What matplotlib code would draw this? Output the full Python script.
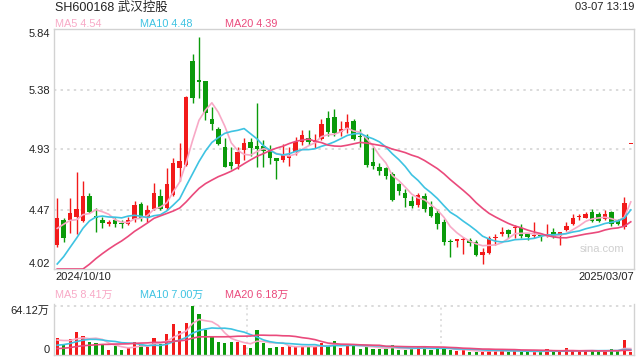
import numpy as np
import pandas as pd
import matplotlib
matplotlib.use("Agg")
import matplotlib.pyplot as plt

plt.rcParams["font.family"] = ["Liberation Sans", "Noto Sans CJK SC", "DejaVu Sans"]

# ---- дані ----
title = "SH600168 武汉控股"
stamp = "03-07 13:19"
first_date = "2024/10/10"
last_date = "2025/03/07"

opens = [4.202, 4.392, 4.392, 4.417, 4.384, 4.574, 4.424, 4.392, 4.364, 4.392,
         4.366, 4.364, 4.399, 4.513, 4.409, 4.475, 4.574, 4.480, 4.581, 4.788,
         4.806, 5.597, 5.453, 5.446, 5.158, 5.079, 4.943, 4.829, 4.816, 4.922,
         4.986, 4.955, 4.950, 4.925, 4.862, 4.847, 4.865, 4.910, 4.986, 5.014,
         4.980, 5.008, 5.163, 5.170, 5.056, 5.087, 5.140, 5.020, 5.024, 4.834,
         4.791, 4.783, 4.740, 4.665, 4.599, 4.538, 4.505, 4.574, 4.493, 4.447,
         4.379, 4.227, 4.235, 4.240, 4.240, 4.227, 4.126, 4.139, 4.253, 4.283,
         4.316, 4.330, 4.328, 4.288, 4.268, 4.285, 4.268, 4.298, 4.273, 4.316,
         4.359, 4.414, 4.409, 4.450, 4.437, 4.399, 4.450, 4.392, 4.341, 4.970]
highs = [4.556, 4.404, 4.556, 4.758, 4.687, 4.596, 4.485, 4.417, 4.392, 4.409,
         4.392, 4.417, 4.536, 4.531, 4.505, 4.672, 4.627, 4.783, 4.859, 4.975,
         5.334, 5.648, 5.776, 5.446, 5.251, 5.100, 5.010, 4.948, 4.948, 5.011,
         5.011, 5.276, 4.998, 4.960, 4.862, 4.965, 4.945, 5.020, 5.074, 5.074,
         5.041, 5.157, 5.215, 5.231, 5.140, 5.193, 5.156, 5.082, 5.041, 4.948,
         4.821, 4.790, 4.758, 4.670, 4.627, 4.570, 4.594, 4.594, 4.536, 4.473,
         4.397, 4.245, 4.250, 4.265, 4.253, 4.240, 4.177, 4.273, 4.283, 4.336,
         4.320, 4.354, 4.361, 4.290, 4.379, 4.290, 4.364, 4.333, 4.300, 4.374,
         4.435, 4.435, 4.450, 4.475, 4.450, 4.467, 4.462, 4.400, 4.569, 4.970]
lows = [4.184, 4.227, 4.290, 4.283, 4.379, 4.442, 4.303, 4.328, 4.349, 4.341,
        4.334, 4.356, 4.379, 4.384, 4.379, 4.467, 4.467, 4.475, 4.576, 4.687,
        4.800, 5.276, 5.316, 5.150, 5.074, 4.960, 4.796, 4.776, 4.778, 4.847,
        4.880, 4.796, 4.796, 4.816, 4.700, 4.829, 4.800, 4.885, 4.958, 4.960,
        4.935, 5.000, 5.030, 5.026, 5.026, 5.055, 5.000, 4.948, 4.796, 4.776,
        4.733, 4.703, 4.536, 4.578, 4.488, 4.484, 4.493, 4.455, 4.414, 4.323,
        4.202, 4.113, 4.187, 4.134, 4.194, 4.120, 4.055, 4.131, 4.202, 4.270,
        4.253, 4.253, 4.253, 4.240, 4.253, 4.232, 4.263, 4.258, 4.202, 4.310,
        4.350, 4.392, 4.405, 4.374, 4.380, 4.395, 4.346, 4.350, 4.323, 4.970]
closes = [4.409, 4.258, 4.445, 4.475, 4.574, 4.450, 4.404, 4.369, 4.379, 4.364,
          4.359, 4.392, 4.505, 4.404, 4.467, 4.596, 4.475, 4.665, 4.821, 4.839,
          5.327, 5.319, 5.436, 5.200, 5.120, 4.965, 4.796, 4.804, 4.910, 4.973,
          4.935, 4.930, 4.915, 4.860, 4.842, 4.885, 4.885, 4.986, 5.036, 4.980,
          4.998, 5.117, 5.060, 5.052, 5.080, 5.133, 5.007, 5.018, 4.808, 4.804,
          4.763, 4.728, 4.543, 4.614, 4.558, 4.500, 4.578, 4.475, 4.422, 4.361,
          4.227, 4.222, 4.245, 4.242, 4.220, 4.126, 4.151, 4.258, 4.258, 4.303,
          4.283, 4.336, 4.273, 4.265, 4.270, 4.270, 4.272, 4.265, 4.298, 4.346,
          4.409, 4.417, 4.437, 4.387, 4.387, 4.435, 4.361, 4.361, 4.518, 4.970]
# обсяг, 万手
volumes = [22.7, 13.1, 20.9, 30.5, 24.9, 17.4, 16.1, 13.1, 6.5, 11.8,
           6.5, 8.7, 17.4, 14.4, 10.9, 21.8, 14.4, 27.5, 40.5, 31.4,
           42.3, 64.12, 53.6, 32.7, 24.9, 17.4, 16.1, 17.4, 17.4, 13.1,
           9.6, 32.7, 16.1, 9.6, 10.9, 10.9, 11.8, 10.9, 10.9, 10.9,
           10.9, 16.1, 11.8, 18.7, 9.6, 13.1, 13.1, 7.8, 12.6, 7.8,
           7.8, 7.8, 13.1, 6.5, 6.5, 7.8, 10.9, 11.8, 6.5, 8.7,
           8.7, 6.5, 5.2, 6.5, 4.4, 4.4, 4.4, 6.5, 6.5, 6.5,
           4.4, 5.2, 4.4, 4.4, 4.4, 4.4, 7.8, 4.4, 4.4, 8.7,
           5.5, 5.5, 5.5, 5.2, 5.2, 5.2, 7.4, 5.2, 19.5, 4.5]

# дні перед вікном (для ковзних середніх)
prev_closes = [3.10, 3.15, 3.20, 3.25, 3.45, 3.55, 3.62, 3.68, 3.72, 3.77,
               3.70, 3.74, 3.78, 3.82, 3.90, 4.10, 4.30, 4.45, 4.381]
prev_volumes = [3.5, 3.8, 4.2, 3.9, 4.1, 4.4, 3.7, 4.0, 4.3, 4.1,
                5.2, 5.8, 6.1, 6.4, 6.5, 16.5, 21.0, 19.2, 18.6]

price_ticks = [4.02, 4.47, 4.93, 5.38, 5.84]
ma_periods = [5, 10, 20]
ma_last = [4.54, 4.48, 4.39]
vol_ma_last = [8.41, 7.00, 6.18]
vol_max = 64.12

RED = "#f21a1a"
GREEN = "#0a9a0a"
MA_COLORS = ["#f8a9c6", "#3ec3e2", "#ea4a7c"]
BORDER = "#d2d2d2"
GRID = "#dadada"


def moving_avg(prev, vals, k):
    s = pd.Series(list(prev) + list(vals))
    return s.rolling(k).mean().to_numpy()[len(prev):]


o = np.array(opens)
h = np.array(highs)
l = np.array(lows)
c = np.array(closes)
v = np.array(volumes)
n = len(c)
x = np.arange(n)

prev_c = np.concatenate([[prev_closes[-1]], c[:-1]])
up = (c > o) | ((c == o) & (c >= prev_c))
colors = np.where(up, RED, GREEN)

fig = plt.figure(figsize=(6.4, 3.6), dpi=100)
ax = fig.add_axes([54 / 640, 1 - 269 / 360, 580 / 640, 240 / 360])
axv = fig.add_axes([54 / 640, 5 / 360, 580 / 640, 51 / 360])

lo, hi = price_ticks[0], price_ticks[-1]

# ------------------------------
# Свічки
# ------------------------------
ax.vlines(x, l, h, colors=colors, lw=1, zorder=2)
body = np.maximum(np.abs(c - o), 0.008)
ax.bar(x, body, bottom=np.minimum(o, c), width=0.68, color=colors, lw=0, zorder=3)

for k, col in zip(ma_periods, MA_COLORS):
    ma = moving_avg(prev_closes, c, k)
    ax.plot(x, np.clip(ma, lo, hi), color=col, lw=1.2, zorder=4)

for t in price_ticks[1:-1]:
    ax.axhline(t, color=GRID, lw=1.4, ls=(0, (1.2, 2.2)), zorder=1)

ax.set_xlim(-0.5, n - 0.5)
ax.set_ylim(lo, hi)
ax.set_xticks([])
ax.set_yticks(price_ticks)
ax.set_yticklabels([f"{t:.2f}" for t in price_ticks])
ax.tick_params(axis="y", length=0, pad=3, labelsize=8, labelcolor="#222222")
labels = ax.get_yticklabels()
labels[0].set_va("bottom")
labels[-1].set_va("top")
for s in ax.spines.values():
    s.set_color(BORDER)
    s.set_linewidth(1)

# ------------------------------
# Обсяг
# ------------------------------
axv.bar(x, v, width=0.5, color=colors, lw=0, zorder=2)
for k, col in zip(ma_periods, MA_COLORS):
    axv.plot(x, moving_avg(prev_volumes, v, k), color=col, lw=1.2, zorder=3)

axv.axhline(vol_max, color=GRID, lw=1.4, ls=(0, (1.2, 2.2)), zorder=1)
for q in (n / 3 - 0.5, 2 * n / 3 - 0.5):
    axv.axvline(q, color=GRID, lw=1.2, ls=(0, (1.2, 2.2)), zorder=1)

axv.set_xlim(-0.5, n - 0.5)
axv.set_ylim(0, vol_max * 1.04)
axv.set_xticks([])
axv.set_yticks([0, vol_max])
axv.set_yticklabels(["0", f"{vol_max:.2f}万"])
axv.tick_params(axis="y", length=0, pad=3, labelsize=8, labelcolor="#222222")
vl = axv.get_yticklabels()
vl[0].set_va("bottom")
vl[1].set_va("top")
axv.spines["top"].set_visible(False)
for side in ("left", "right", "bottom"):
    axv.spines[side].set_color(BORDER)
    axv.spines[side].set_linewidth(1)

# ------------------------------
# Підписи
# ------------------------------
def fy(py):
    return 1 - py / 360


fig.text(55 / 640, fy(7.5), title, fontsize=9, va="center", color="#222222")
fig.text(634 / 640, fy(7.5), stamp, fontsize=8, va="center", ha="right", color="#222222")

for px, k, val, col in zip([55, 140, 225], ma_periods, ma_last, MA_COLORS):
    fig.text(px / 640, fy(24), f"MA{k} {val:.2f}", fontsize=7.8, va="center", color=col)

for px, k, val, col in zip([55, 140, 225], ma_periods, vol_ma_last, MA_COLORS):
    fig.text(px / 640, fy(295), f"MA{k} {val:.2f}万", fontsize=7.8, va="center", color=col)

fig.text(55 / 640, fy(277), first_date, fontsize=8, va="center", color="#222222")
fig.text(634 / 640, fy(277), last_date, fontsize=8, va="center", ha="right", color="#222222")
fig.text(602 / 640, fy(249), "sina.com", fontsize=8, va="center", ha="center", color="#cfcfcf")

fig.savefig("out.png", dpi=100, facecolor="white")
